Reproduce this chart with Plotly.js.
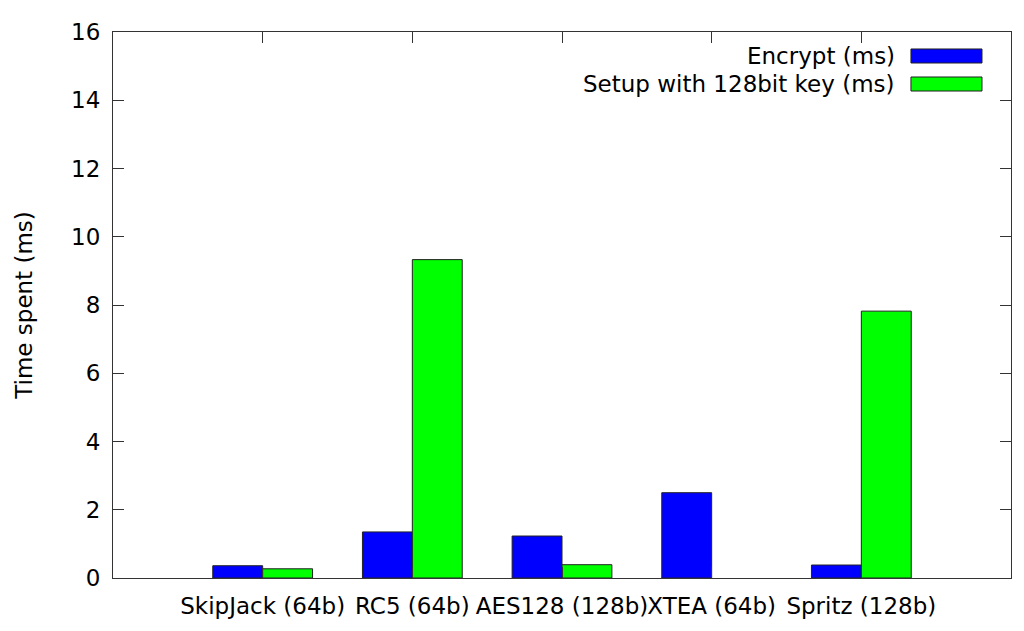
<!DOCTYPE html>
<html>
<head>
<meta charset="utf-8">
<script src="https://cdn.plot.ly/plotly-3.0.1.min.js"></script>
<style>html,body{margin:0;padding:0;background:#fff;}#chart{width:1024px;height:631px;}</style>
</head>
<body>
<div id="chart"></div>
<script>
const categories = ["SkipJack (64b)", "RC5 (64b)", "AES128 (128b)", "XTEA (64b)", "Spritz (128b)"];
const encryptMs = [0.36, 1.35, 1.23, 2.50, 0.38];
const setupMs = [0.27, 9.33, 0.39, null, 7.82];
const seriesNames = ["Encrypt (ms)", "Setup with 128bit key (ms)"];
const seriesColors = ["#0000ff", "#00ff00"];
const yTicks = [0, 2, 4, 6, 8, 10, 12, 14, 16];

const xIdx = categories.map((_, i) => i);
const font = {family: "DejaVu Sans, sans-serif", size: 23, color: "#000"};

const traces = [encryptMs, setupMs].map((vals, k) => ({
  type: "bar",
  x: xIdx,
  y: vals,
  name: seriesNames[k],
  marker: {color: seriesColors[k], line: {color: "#222", width: 1}},
  showlegend: false,
  hoverinfo: "y"
}));

const legendBoxes = [[0.9689, 0.9432], [0.9176, 0.8919]];
const shapes = legendBoxes.map((b, k) => ({
  type: "rect", xref: "paper", yref: "paper",
  x0: 0.8886, x1: 0.9677, y0: b[1], y1: b[0],
  fillcolor: seriesColors[k], line: {color: "#222", width: 1}
}));
const annotations = legendBoxes.map((b, k) => ({
  xref: "paper", yref: "paper", x: 0.8731, y: (b[0] + b[1]) / 2,
  xanchor: "right", yanchor: "middle", showarrow: false,
  text: seriesNames[k], font: font
}));

const axisCommon = {
  showline: true, linecolor: "#333", linewidth: 1, mirror: "ticks",
  ticks: "inside", ticklen: 11, tickcolor: "#333", tickwidth: 1,
  showgrid: false, zeroline: false, tickfont: font
};

const layout = {
  width: 1024, height: 631,
  margin: {l: 113, r: 13, t: 32, b: 53},
  paper_bgcolor: "#fff", plot_bgcolor: "#fff",
  barmode: "group", bargap: 1/3, bargroupgap: 0,
  font: font,
  xaxis: Object.assign({}, axisCommon, {
    range: [-1, 5], tickmode: "array", tickvals: xIdx, ticktext: categories,
    tickangle: 0, ticklabelstandoff: 7
  }),
  yaxis: Object.assign({}, axisCommon, {
    range: [0, 16], tickmode: "array", tickvals: yTicks, ticktext: yTicks.map(String),
    ticklabelstandoff: 7,
    title: {text: "Time spent (ms)", font: font, standoff: 32}
  }),
  shapes: shapes,
  annotations: annotations
};

Plotly.newPlot("chart", traces, layout, {displayModeBar: false, staticPlot: true});
</script>
</body>
</html>
